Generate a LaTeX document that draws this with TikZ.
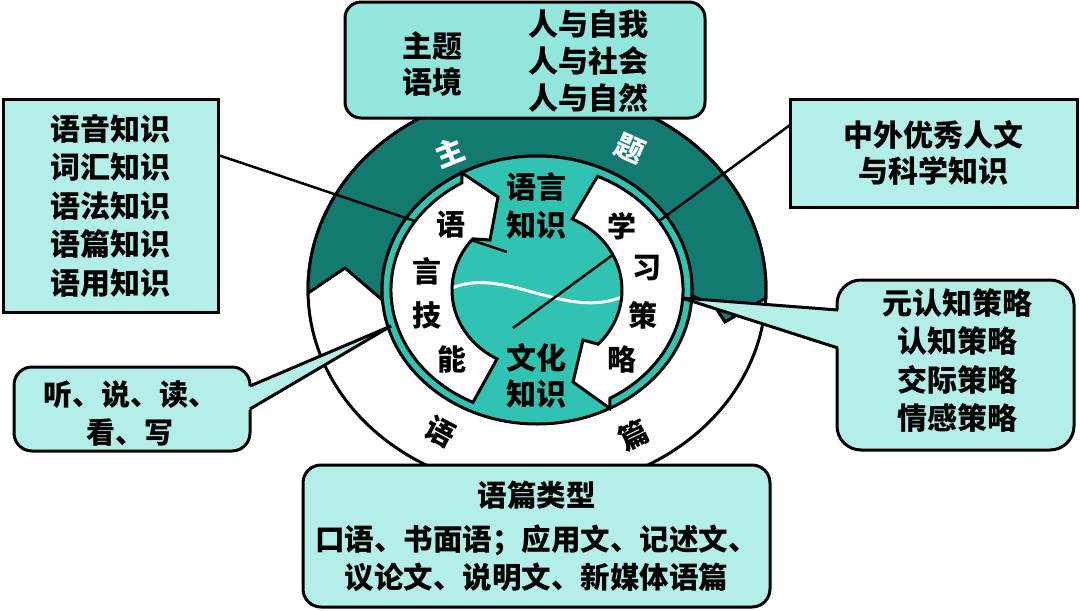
\documentclass[tikz,border=0pt]{standalone}
\usepackage{fontspec}
\setmainfont{Noto Sans CJK SC}
\usetikzlibrary{calc}
\definecolor{darkteal}{RGB}{19,122,113}
\definecolor{midteal}{RGB}{49,195,178}
\definecolor{paleteal}{RGB}{179,239,232}
\definecolor{topteal}{RGB}{146,230,220}
\begin{document}
\begin{tikzpicture}[x=1pt,y=-1pt,
  every node/.style={font=\bfseries\fontsize{30}{38.5}\selectfont, inner sep=0pt, align=center},
  sqbox/.style={draw=black, line width=3pt, fill=paleteal},
  rndbox/.style={draw=black, line width=3pt, fill=paleteal, rounded corners=18pt},
  ringline/.style={draw=black, line width=3pt},
  ringch/.style={font=\bfseries\fontsize{29}{30}\selectfont},
  conn/.style={draw=black, line width=2.5pt},
  whitearrow/.style={fill=white, draw=black, line width=3pt, line join=miter}
]
\useasboundingbox (0,0) rectangle (1080,611);
\fill[white] (0,0) rectangle (1080,611);
\coordinate (C) at (537,290);

% outer ring (white lower part)
\path[ringline, fill=white] (C) ellipse [x radius=229, y radius=200];
% dark upper band (circular arrow)
\path[ringline, fill=darkteal, line join=miter]
  ($(C)+(179.1:229 and 200)$) -- (345,268) -- ($(C)+(175.7:155 and 134)$)
  arc[start angle=175.7, end angle=362.5, x radius=155, y radius=134]
  -- (714,305) -- (725,322) -- ($(C)+(362.3:229 and 200)$)
  arc[start angle=362.3, end angle=179.1, x radius=229, y radius=200] -- cycle;
% teal inner disk
\path[ringline, fill=midteal] (C) ellipse [x radius=155, y radius=134];
% wave
\draw[white, line width=3pt] (452,288) .. controls (505,266) and (565,320) .. (622,297);

% connectors from the square boxes
\coordinate (la) at (218,155);
\coordinate (lb) at (507,252);
\coordinate (ra) at (790,125);
\coordinate (rb) at (513,328);
\draw[conn] (la) -- (lb);
\draw[conn] (ra) -- (rb);

% white curved arrows
\path[whitearrow]
  ($(C)+(118:85 and 78)$) -- ($(C)+(116:146 and 125)$)
  arc[start angle=116, end angle=239, x radius=146, y radius=125]
  -- ($(C)+(241:155 and 134)$) -- (498,197) -- (490,240)
  -- ($(C)+(221:85 and 78)$)
  arc[start angle=221, end angle=118, x radius=85, y radius=78] -- cycle;
\path[whitearrow]
  ($(C)+(294.5:85 and 78)$) -- ($(C)+(294.5:146 and 125)$)
  arc[start angle=294.5, end angle=420, x radius=146, y radius=125]
  -- ($(C)+(422:155 and 134)$) -- (573,382) -- (583,340)
  -- ($(C)+(404:85 and 78)$)
  arc[start angle=404, end angle=294.5, x radius=85, y radius=78] -- cycle;

% ring texts
\node[ringch, text=white, rotate=22] (zhu) at (450,152) {主};
\node[ringch, text=white, rotate=-24] (ti) at (630,149) {题};
\node[ringch, rotate=-28] (yu) at (440,432) {语};
\node[ringch, rotate=26] (pian) at (634,435) {篇};

\node[ringch] (s1) at (451,225) {语};
\node[ringch] (s2) at (427,271) {言};
\node[ringch] (s3) at (427,315) {技};
\node[ringch] (s4) at (452,359) {能};
\node[ringch] (c1) at (622,226) {学};
\node[ringch] (c2) at (647,268) {习};
\node[ringch] (c3) at (643,315) {策};
\node[ringch] (c4) at (622,359) {略};

\node[font=\bfseries\fontsize{30}{38}\selectfont] (lk) at (536,206) {语言\\知识};
\node[font=\bfseries\fontsize{30}{36}\selectfont] (ck) at (536,376) {文化\\知识};

% top box
\node[rndbox, fill=topteal, rounded corners=16pt, minimum width=360, minimum height=116] (tbox) at (525,60) {};
\node[font=\bfseries\fontsize{30}{36}\selectfont] (tb1) at (432,64) {主题\\语境};
\node[font=\bfseries\fontsize{30}{37}\selectfont] (tb2) at (588,61.5) {人与自我\\人与社会\\人与自然};

% left square box
\node[sqbox, minimum width=215, minimum height=213] (lbox) at (110.5,205.5)
  {语音知识\\词汇知识\\语法知识\\语篇知识\\语用知识};

% right square box
\node[sqbox, minimum width=287, minimum height=108, font=\bfseries\fontsize{30}{36}\selectfont] (rbox) at (933.5,153)
  {中外优秀人文\\与科学知识};

% right callout
\node[rndbox, rounded corners=24pt, minimum width=237, minimum height=170] (rcall) at (955.5,365) {};
\node[font=\bfseries\fontsize{30}{38.3}\selectfont] (rcallt) at (957,360.5) {元认知策略\\认知策略\\交际策略\\情感策略};
\coordinate (rtip) at (682,298);
\fill[paleteal] (rtip) -- (846,310.6) -- (846,350.6) -- cycle;
\draw[conn, line width=3pt] (rtip) -- (838,310);
\draw[conn, line width=3pt] (rtip) -- (838,348);

% left callout
\node[rndbox, minimum width=236, minimum height=84] (lcall) at (132,409) {};
\node[font=\bfseries\fontsize{29}{38}\selectfont] (lcallt) at (130,414) {听、说、读、\\看、写};
\coordinate (ltip) at (391,326);
\fill[paleteal] (ltip) -- (243,389) -- (243,413) -- cycle;
\draw[conn, line width=3pt] (ltip) -- (250,386);
\draw[conn, line width=3pt] (ltip) -- (250,409);

% bottom box
\node[rndbox, minimum width=467, minimum height=142, font=\bfseries\fontsize{29.5}{38}\selectfont] (bbox) at (536.5,536)
  {语篇类型\\[6pt]口语、书面语；应用文、记述文、\\议论文、说明文、新媒体语篇};
\end{tikzpicture}
\end{document}
